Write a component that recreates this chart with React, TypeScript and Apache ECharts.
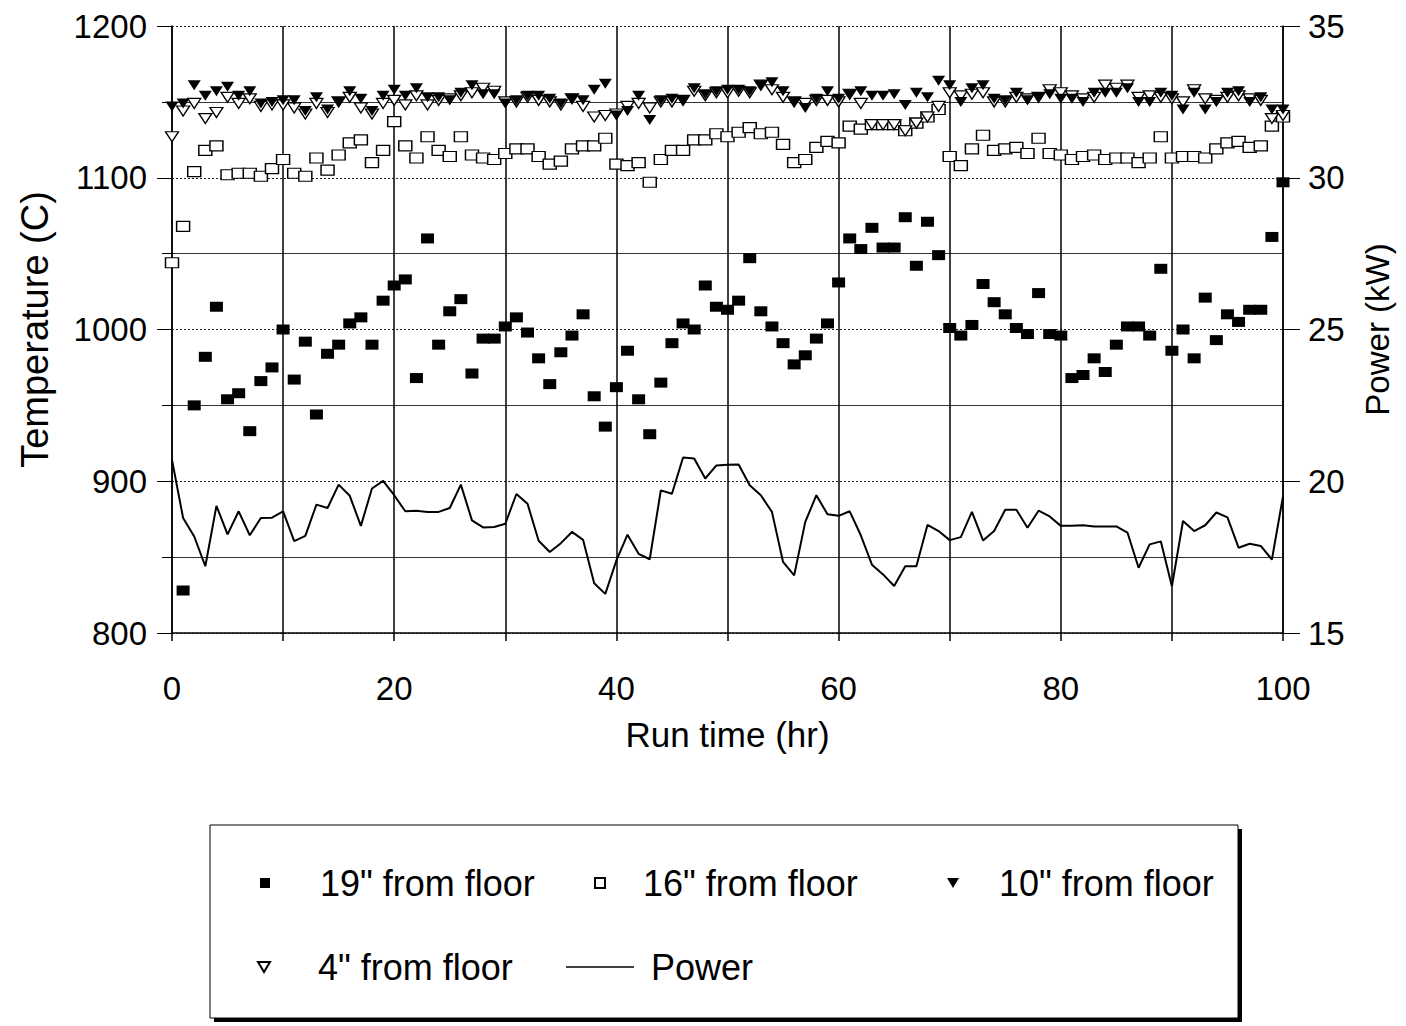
import React, { useEffect, useRef } from "react";
import * as echarts from "echarts";

// Run time (hr)
const hours = [
  0, 1, 2, 3, 4, 5, 6, 7, 8, 9, 10, 11, 12, 13, 14, 15, 16, 17, 18, 19, 20,
  21, 22, 23, 24, 25, 26, 27, 28, 29, 30, 31, 32, 33, 34, 35, 36, 37, 38, 39, 40,
  41, 42, 43, 44, 45, 46, 47, 48, 49, 50, 51, 52, 53, 54, 55, 56, 57, 58, 59, 60,
  61, 62, 63, 64, 65, 66, 67, 68, 69, 70, 71, 72, 73, 74, 75, 76, 77, 78, 79, 80,
  81, 82, 83, 84, 85, 86, 87, 88, 89, 90, 91, 92, 93, 94, 95, 96, 97, 98, 99, 100,
];

// Temperature (C), 19" from floor
const temp19 = [
  null, 828, 950, 982, 1015, 954, 958, 933, 966, 975, 1000,
  967, 992, 944, 984, 990, 1004, 1008, 990, 1019, 1029,
  1033, 968, 1060, 990, 1012, 1020, 971, 994, 994, 1002,
  1008, 998, 981, 964, 985, 996, 1010, 956, 936, 962,
  986, 954, 931, 965, 991, 1004, 1000, 1029, 1015, 1013,
  1019, 1047, 1012, 1002, 991, 977, 983, 994, 1004, 1031,
  1060, 1053, 1067, 1054, 1054, 1074, 1042, 1071, 1049, 1001,
  996, 1003, 1030, 1018, 1010, 1001, 997, 1024, 997, 996,
  968, 970, 981, 972, 990, 1002, 1002, 996, 1040, 986,
  1000, 981, 1021, 993, 1010, 1005, 1013, 1013, 1061, 1097,
];

// Temperature (C), 16" from floor
const temp16 = [
  1044, 1068, 1104, 1118, 1121, 1102, 1103, 1103, 1101, 1106, 1112,
  1103, 1101, 1113, 1105, 1115, 1123, 1125, 1110, 1118, 1137,
  1121, 1113, 1127, 1118, 1114, 1127, 1115, 1113, 1112, 1116,
  1119, 1119, 1114, 1109, 1111, 1119, 1121, 1121, 1126, 1109,
  1108, 1110, 1097, 1112, 1118, 1118, 1125, 1125, 1129, 1127,
  1130, 1133, 1129, 1130, 1122, 1110, 1112, 1120, 1124, 1123,
  1134, 1132, 1135, 1135, 1135, 1131, 1136, 1140, 1145, 1114,
  1108, 1119, 1128, 1118, 1119, 1120, 1116, 1126, 1116, 1115,
  1112, 1114, 1115, 1112, 1113, 1113, 1110, 1113, 1127, 1113,
  1114, 1114, 1113, 1119, 1123, 1124, 1120, 1121, 1134, 1140,
];

// Temperature (C), 10" from floor
const temp10 = [
  1147, 1149, 1161, 1154, 1157, 1160, 1154, 1157, 1149, 1150, 1151,
  1151, 1144, 1153, 1145, 1150, 1157, 1152, 1144, 1154, 1158,
  1154, 1159, 1153, 1153, 1151, 1156, 1161, 1155, 1155, 1149,
  1151, 1154, 1154, 1152, 1149, 1152, 1151, 1158, 1162, 1141,
  1144, 1154, 1138, 1151, 1152, 1151, 1159, 1155, 1157, 1158,
  1158, 1157, 1161, 1163, 1157, 1150, 1146, 1152, 1157, 1152,
  1155, 1157, 1154, 1154, 1155, 1148, 1156, 1153, 1164, 1161,
  1150, 1159, 1161, 1152, 1151, 1156, 1151, 1153, 1155, 1152,
  1152, 1150, 1156, 1156, 1156, 1159, 1150, 1150, 1156, 1154,
  1145, 1156, 1145, 1150, 1156, 1157, 1150, 1153, 1145, 1145,
];

// Temperature (C), 4" from floor
const temp4 = [
  1127, 1144, 1149, 1139, 1143, 1153, 1149, 1152, 1147, 1148, 1148,
  1146, 1142, 1149, 1143, 1150, 1153, 1146, 1142, 1149, 1151,
  1148, 1154, 1148, 1151, 1152, 1154, 1156, 1159, 1157, 1150,
  1150, 1153, 1151, 1150, 1148, 1152, 1147, 1140, 1141, 1142,
  1147, 1149, 1146, 1150, 1150, 1151, 1157, 1154, 1156, 1156,
  1157, 1156, 1161, 1158, 1153, 1150, 1149, 1151, 1151, 1150,
  1155, 1149, 1135, 1135, 1135, 1131, 1136, 1140, 1147, 1156,
  1154, 1155, 1156, 1150, 1150, 1153, 1152, 1153, 1158, 1156,
  1154, 1152, 1153, 1161, 1159, 1161, 1153, 1154, 1153, 1152,
  1150, 1158, 1152, 1151, 1153, 1154, 1152, 1151, 1139, 1141,
];

// Power (kW)
const power = [
  20.7, 18.79, 18.18, 17.2, 19.19, 18.25, 19.01, 18.22, 18.79, 18.8, 19.01,
  18.03, 18.2, 19.23, 19.12, 19.89, 19.52, 18.53, 19.76, 20.01, 19.54,
  19.01, 19.03, 18.99, 18.99, 19.12, 19.89, 18.71, 18.48, 18.49, 18.6,
  19.58, 19.26, 18.04, 17.67, 17.96, 18.33, 18.07, 16.64, 16.29, 17.39,
  18.24, 17.61, 17.43, 19.7, 19.59, 20.78, 20.75, 20.09, 20.52, 20.54,
  20.55, 19.87, 19.54, 18.99, 17.34, 16.9, 18.66, 19.54, 18.91, 18.86,
  19.01, 18.22, 17.25, 16.93, 16.55, 17.2, 17.2, 18.56, 18.36, 18.06,
  18.16, 18.99, 18.05, 18.36, 19.06, 19.06, 18.47, 19.03, 18.84, 18.53,
  18.53, 18.55, 18.51, 18.51, 18.51, 18.31, 17.15, 17.92, 18.02, 16.54,
  18.69, 18.36, 18.55, 18.97, 18.81, 17.81, 17.94, 17.87, 17.42, 19.5,
];

const seriesNames = ['19" from floor', '16" from floor', '10" from floor', '4" from floor', "Power"];
const tempTicks = [800, 900, 1000, 1100, 1200];
const powerTicks = [15, 20, 25, 30, 35];
const xLabelTicks = [0, 20, 40, 60, 80, 100];

const FONT = "'Liberation Sans', Arial, Helvetica, sans-serif";
const DOWN_TRI = "path://M0,0L12,0L6,10Z";

function pairs(vals: (number | null)[]) {
  return hours
    .map((h, i) => [h, vals[i]])
    .filter((p) => p[1] !== null && p[1] !== undefined);
}

function legendItem(name: any, left: number, top: number, pad: number, w = 10, h = 10) {
  return {
    data: [name],
    left,
    top,
    orient: "horizontal",
    padding: 0,
    itemWidth: w,
    itemHeight: h,
    selectedMode: false,
    z: 10,
    textStyle: { fontSize: 36, fontFamily: FONT, color: "#000", padding: [0, 0, 0, pad] },
  };
}

export default function App() {
  const ref = useRef<HTMLDivElement>(null);
  useEffect(() => {
    document.body.style.margin = "0";
    const chart = echarts.init(ref.current!, null, { renderer: "svg" });
    const option: any = {
      animation: false,
      backgroundColor: "#fff",
      grid: { left: 172, right: 123, top: 26, bottom: 393, containLabel: false },
      xAxis: {
        type: "value",
        min: 0,
        max: 100,
        interval: 10,
        name: "Run time (hr)",
        nameLocation: "middle",
        nameGap: 84,
        nameTextStyle: { fontSize: 35, fontFamily: FONT, color: "#000" },
        axisLine: { show: true, lineStyle: { color: "#000", width: 1.5 } },
        axisTick: { show: true, inside: false, length: 8, lineStyle: { color: "#000", width: 1.5 } },
        axisLabel: {
          fontSize: 33,
          fontFamily: FONT,
          color: "#000",
          margin: 39,
          formatter: (v: number) => (xLabelTicks.indexOf(v) >= 0 ? String(v) : ""),
        },
        splitLine: { show: true, lineStyle: { color: "#000", width: 1.5 } },
      },
      yAxis: [
        {
          type: "value",
          position: "left",
          min: tempTicks[0],
          max: tempTicks[tempTicks.length - 1],
          interval: 100,
          name: "Temperature (C)",
          nameLocation: "middle",
          nameRotate: 90,
          nameGap: 118,
          nameTextStyle: { fontSize: 38, fontFamily: FONT, color: "#000" },
          axisLine: { show: true, lineStyle: { color: "#000", width: 1.5 } },
          axisTick: { show: true, inside: false, length: 15, lineStyle: { color: "#000", width: 1 } },
          minorTick: { show: true, splitNumber: 2, length: 10, lineStyle: { color: "#000", width: 1 } },
          axisLabel: {
            fontSize: 33,
            fontFamily: FONT,
            color: "#000",
            margin: 25,
            formatter: (v: number) => String(v),
          },
          splitLine: { show: true, lineStyle: { color: "#222", width: 1, type: [2, 2] } },
          minorSplitLine: { show: true, lineStyle: { color: "#333", width: 1 } },
        },
        {
          type: "value",
          position: "right",
          min: powerTicks[0],
          max: powerTicks[powerTicks.length - 1],
          interval: 5,
          name: "Power (kW)",
          nameLocation: "middle",
          nameRotate: 90,
          nameGap: 78,
          nameTextStyle: { fontSize: 33, fontFamily: FONT, color: "#000" },
          axisLine: { show: true, lineStyle: { color: "#000", width: 1.5 } },
          axisTick: { show: true, inside: false, length: 17, lineStyle: { color: "#000", width: 1 } },
          axisLabel: {
            fontSize: 33,
            fontFamily: FONT,
            color: "#000",
            margin: 25,
            formatter: (v: number) => String(v),
          },
          splitLine: { show: false },
        },
      ],
      graphic: [
        { type: "rect", z: 0, shape: { x: 214, y: 829, width: 1028, height: 193 }, style: { fill: "#000" } },
        {
          type: "rect",
          z: 1,
          shape: { x: 210, y: 825, width: 1028, height: 193 },
          style: { fill: "#fff", stroke: "#000", lineWidth: 1 },
        },
      ],
      legend: [
        legendItem(seriesNames[0], 260, 865, 45),
        legendItem(seriesNames[1], 594, 865, 33),
        legendItem(seriesNames[2], 947, 865, 35, 12, 10),
        legendItem(seriesNames[3], 257, 949, 43, 12, 10),
        legendItem(
          { name: seriesNames[4], icon: "rect", itemStyle: { color: "#000", borderWidth: 0 } },
          566,
          949,
          12,
          68,
          1.5
        ),
      ],
      series: [
        {
          name: seriesNames[0],
          type: "scatter",
          yAxisIndex: 0,
          symbol: "rect",
          symbolSize: [13, 10],
          itemStyle: { color: "#000", opacity: 1 },
          data: pairs(temp19),
          z: 3,
        },
        {
          name: seriesNames[1],
          type: "scatter",
          yAxisIndex: 0,
          symbol: "rect",
          symbolSize: [13, 10],
          itemStyle: { color: "#fff", borderColor: "#000", borderWidth: 1.3, opacity: 1 },
          data: pairs(temp16),
          z: 3,
        },
        {
          name: seriesNames[2],
          type: "scatter",
          yAxisIndex: 0,
          symbol: DOWN_TRI,
          symbolSize: [13, 10],
          itemStyle: { color: "#000", opacity: 1 },
          data: pairs(temp10),
          z: 5,
        },
        {
          name: seriesNames[3],
          type: "scatter",
          yAxisIndex: 0,
          symbol: DOWN_TRI,
          symbolSize: [13, 10],
          itemStyle: { color: "#fff", borderColor: "#000", borderWidth: 1.3, opacity: 1 },
          data: pairs(temp4),
          z: 4,
        },
        {
          name: seriesNames[4],
          type: "line",
          yAxisIndex: 1,
          symbol: "none",
          showSymbol: false,
          lineStyle: { color: "#000", width: 2 },
          itemStyle: { color: "#000" },
          data: pairs(power),
          z: 6,
        },
      ],
    };
    chart.setOption(option);
    return () => chart.dispose();
  }, []);
  return <div ref={ref} style={{ width: 1406, height: 1026 }} />;
}
